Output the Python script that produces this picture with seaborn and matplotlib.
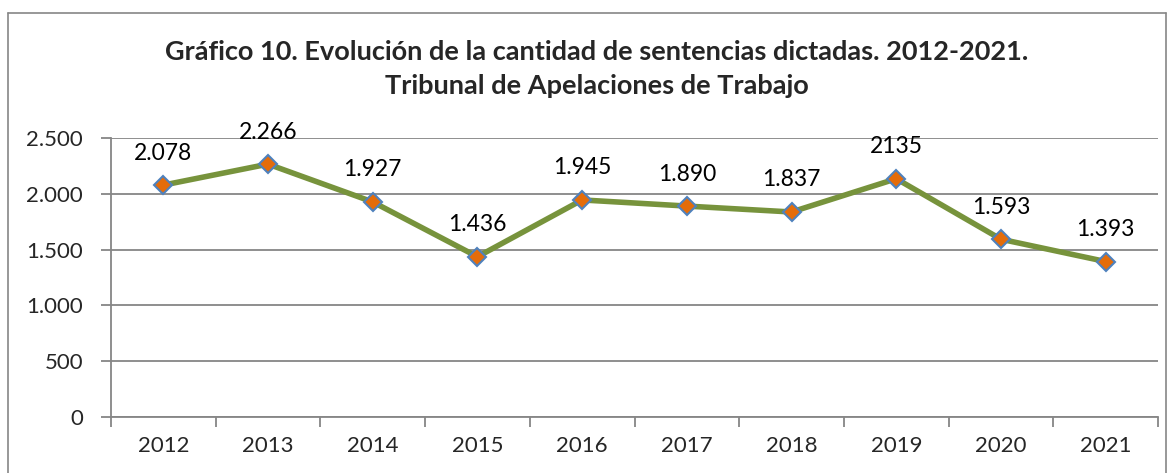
import matplotlib
matplotlib.use("Agg")
import matplotlib.pyplot as plt
import seaborn as sns
import pandas as pd
from matplotlib.lines import Line2D

years = ["2012", "2013", "2014", "2015", "2016", "2017", "2018", "2019", "2020", "2021"]
values = [2078, 2266, 1927, 1436, 1945, 1890, 1837, 2135, 1593, 1393]
labels = ["2.078", "2.266", "1.927", "1.436", "1.945", "1.890", "1.837", "2135", "1.593", "1.393"]
yticks = [0, 500, 1000, 1500, 2000, 2500]
yticklabels = ["0", "500", "1.000", "1.500", "2.000", "2.500"]
title = "Gráfico 10. Evolución de la cantidad de sentencias dictadas. 2012-2021.\nTribunal de Apelaciones de Trabajo"

sns.set_theme(style="white")
plt.rcParams['font.family'] = ['Lato', 'DejaVu Sans']

df = pd.DataFrame({"year": years, "value": values})
df["pos"] = range(len(years))

fig = plt.figure(figsize=(11.74, 4.73), dpi=100)
ax = fig.add_axes([111/1174, 1 - 417/473, (1158 - 111)/1174, (417 - 138)/473])

sns.lineplot(data=df, x="pos", y="value", ax=ax, color="#77933C", linewidth=4,
             marker="D", markersize=9, markerfacecolor="#E46C0A",
             markeredgecolor="#4F81BD", markeredgewidth=1.5, zorder=3)

for x, y, t in zip(df["pos"], values, labels):
    ax.annotate(t, (x, y), xytext=(0, 32), textcoords="offset pixels",
                ha="center", va="center", fontsize=16.5, color="black")

ax.set_xlim(-0.5, len(years) - 0.5)
ax.set_ylim(0, 2500)
ax.set_yticks(yticks)
ax.set_yticklabels(yticklabels, fontsize=16)
ax.set_xticks(range(len(years)))
ax.set_xticklabels(years, fontsize=16)
ax.set_xticks([i - 0.5 for i in range(len(years) + 1)], minor=True)
ax.tick_params(axis="x", which="major", length=0, pad=14)
ax.tick_params(axis="x", which="minor", length=7, width=1.3, color="#868686", direction="out", bottom=True)
ax.tick_params(axis="y", which="major", length=7, width=1.3, color="#868686", direction="out", left=True, pad=13)
ax.yaxis.grid(True, color="#868686", linewidth=1.3)
ax.set_axisbelow(True)
for s in ["top", "right"]:
    ax.spines[s].set_visible(False)
for s in ["left", "bottom"]:
    ax.spines[s].set_color("#868686")
    ax.spines[s].set_linewidth(1.3)
ax.set_xlabel("")
ax.set_ylabel("")

fig.text(597/1174, 1 - 69/473, title, ha="center", va="center", fontsize=19.5,
         fontweight="bold", linespacing=1.45)

# outer chart frame
fr = dict(color="#868686", linewidth=1.2, transform=fig.transFigure)
fig.add_artist(Line2D([8/1174, 8/1174], [0, 1 - 13/473], **fr))
fig.add_artist(Line2D([8/1174, 1166/1174], [1 - 13/473, 1 - 13/473], **fr))
fig.add_artist(Line2D([1166/1174, 1166/1174], [0, 1 - 13/473], **fr))

fig.savefig("out.png", dpi=100)
